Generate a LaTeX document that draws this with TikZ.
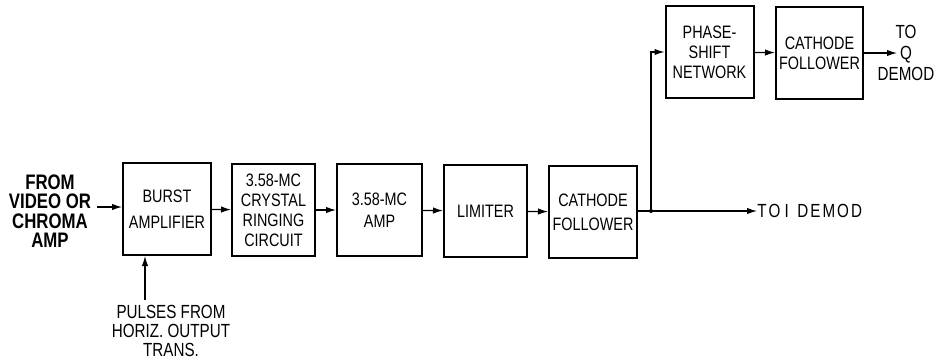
\documentclass[tikz,border=0pt]{standalone}
\usepackage{fontspec}
\setmainfont[FakeStretch=0.8]{Liberation Sans}
\usetikzlibrary{arrows.meta}

\begin{document}
\begin{tikzpicture}[x=0.5pt,y=-0.5pt,
  blk/.style={draw,line width=1pt,minimum width=44pt,minimum height=46pt,
    inner sep=1pt,align=center,font=\fontsize{9}{10}\selectfont},
  lbl/.style={align=center,inner sep=0pt,font=\fontsize{9.5}{9.5}\selectfont},
  sig/.style={line width=0.6pt,-{Latex[length=5pt,width=3.2pt]}}]
  \useasboundingbox (0,0) rectangle (944,361);
  % main chain
  \node[blk] (burst) at (167,209) {BURST\\[3pt]AMPLIFIER};
  \node[blk,minimum width=41.5pt] (xtal) at (273.5,210) {3.58-MC\\CRYSTAL\\RINGING\\CIRCUIT};
  \node[blk,minimum width=42.5pt] (amp) at (379.5,210) {3.58-MC\\[1pt]AMP};
  \node[blk,minimum width=41.5pt] (lim) at (485.5,211) {LIMITER};
  \node[blk] (cf) at (593,212) {CATHODE\\[2pt]FOLLOWER};
  % upper branch
  \node[blk] (phase) at (709.5,52) {PHASE-\\SHIFT\\NETWORK};
  \node[blk,minimum width=43.5pt] (cf2) at (819.5,53) {CATHODE\\FOLLOWER};
  % labels
  \node[lbl,font=\fontsize{10.5}{9.7}\selectfont\bfseries] (src) at (50,211) {FROM\\VIDEO OR\\CHROMA\\AMP};
  \node[lbl] (pulse) at (171,331) {PULSES FROM\\HORIZ. OUTPUT\\TRANS.};
  \node[lbl,font=\fontsize{9.5}{10.5}\selectfont] (qdem) at (906,53) {TO\\Q\\DEMOD};
  \node[lbl,anchor=west] (idem) at (757,211) {T\kern1ptO\ I\ \ D\kern1ptE\kern1ptM\kern1ptO\kern1ptD};
  \coordinate (jn) at (651,211);
  \coordinate (pin) at (145,300);
  \coordinate (src-out) at (97,207);
  \coordinate (q-in) at (897,53);
  % connectors
  \draw[sig] (src-out) -- (src-out -| burst.west);
  \draw[sig] (pin) -- (pin |- burst.south);
  \draw[sig] (burst) -- (xtal);
  \draw[sig] (xtal) -- (amp);
  \draw[sig] (amp) -- (lim);
  \draw[sig] (lim) -- (cf);
  \draw[line width=0.6pt] (cf.east |- jn) -- (jn);
  \draw[sig] (jn) -- (idem.west);
  \draw[sig] (jn) -- (jn |- phase.west) -- (phase.west);
  \draw[sig] (phase) -- (cf2);
  \draw[sig] (cf2) -- (q-in);
  \fill (jn) circle (2);
\end{tikzpicture}
\end{document}
